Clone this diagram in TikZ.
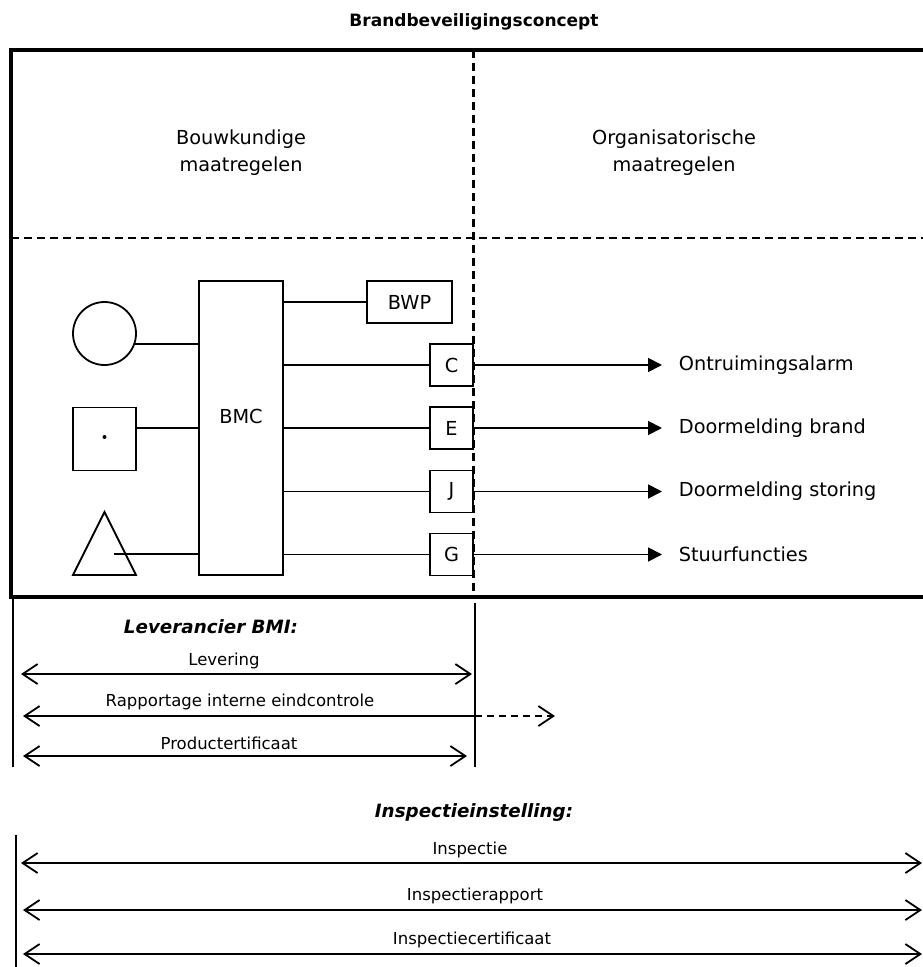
\documentclass[tikz,border=0pt]{standalone}
\usepackage{fontspec}
\setmainfont{DejaVu Sans}
\usetikzlibrary{arrows.meta}

\begin{document}
\begin{tikzpicture}[x=1pt,y=-1pt,line width=1.8pt,box/.style={draw,rectangle,inner sep=0pt,font=\fontsize{19.3}{23}\selectfont},port/.style={box,minimum width=43pt,minimum height=42pt},outlabel/.style={anchor=west,inner sep=0pt,font=\fontsize{19.3}{23}\selectfont},flowlabel/.style={inner sep=0pt,font=\fontsize{16.5}{20}\selectfont},partylabel/.style={inner sep=0pt,font=\fontsize{18.3}{22}\selectfont\bfseries\itshape},divider/.style={line width=2.2pt,dash pattern=on 8pt off 5pt},signal/.style={-{Triangle[length=14pt,width=14pt]},shorten >=16pt},barb/.tip={Straight Barb[length=15pt,width=20pt]},twoway/.style={barb-barb}]
  \useasboundingbox (0,0) rectangle (923,967);
  %header
  \node[font=\fontsize{17}{20}\selectfont\bfseries] (title) at (474,22) {Brandbeveiligingsconcept};
  \draw[line width=3.5pt] (930,50) -- (11,50) -- (11,597) -- (930,597);
  \draw[divider] (473.5,50) -- (473.5,597);
  \draw[divider] (11,238) -- (930,238);
  \node[align=center,font=\fontsize{19.3}{27}\selectfont] (bouw) at (241,152.5) {Bouwkundige\\maatregelen};
  \node[align=center,font=\fontsize{19.3}{27}\selectfont] (org) at (674,152.5) {Organisatorische\\maatregelen};

  %detectors
  \node[draw,circle,minimum size=63pt,inner sep=0pt] (detA) at (104.5,333.5) {};
  \node[box,minimum size=63pt] (detB) at (104.5,439) {};
  \fill ([yshift=2pt]detB.center) circle (2pt);
  \draw (73,575) -- (104.5,512) -- (136,575) -- cycle;
  \coordinate (detC) at (114,554);

  %central unit
  \node[box,minimum width=84pt,minimum height=294pt,label={[yshift=12pt,font=\fontsize{19.3}{23}\selectfont]center:BMC}] (bmc) at (241,428) {};
  \node[box,minimum width=85pt,minimum height=42pt] (bwp) at (409.5,302) {BWP};
  \node[port] (c) at (451.5,365) {C};
  \node[port] (e) at (451.5,428) {E};
  \node[port] (j) at (451.5,491.5) {J};
  \node[port] (g) at (451.5,554.5) {G};
  \node[outlabel] (alarm) at (678,365) {Ontruimingsalarm};
  \node[outlabel] (brand) at (678,428) {Doormelding brand};
  \node[outlabel] (storing) at (678,491.5) {Doormelding storing};
  \node[outlabel] (sturing) at (678,554.5) {Stuurfuncties};

  \draw (detA.-19.5) -- (detA.-19.5 -| bmc.west);
  \draw ([yshift=11pt]detB.east) -- ([yshift=11pt]detB.east -| bmc.west);
  \draw (detC) -- (detC -| bmc.west);
  \draw (bwp.west -| bmc.east) -- (bwp.west);
  \foreach \p/\l in {c/alarm,e/brand,j/storing,g/sturing}{
    \draw (\p.west -| bmc.east) -- (\p.west);
    \draw[signal] (\p.east) -- (\l.west);
  }

  %supplier
  \coordinate (bmiL1) at (13,597);
  \coordinate (bmiL2) at (13,767);
  \coordinate (bmiR1) at (475,603);
  \coordinate (bmiR2) at (475,767);
  \draw (bmiL1) -- (bmiL2);
  \draw (bmiR1) -- (bmiR2);
  \node[partylabel] (bmi) at (211,627) {Leverancier BMI:};
  \node[flowlabel] (lev) at (224,661) {Levering};
  \coordinate (levA) at (21,674);
  \coordinate (levB) at (472,674);
  \draw[twoway] (levA) -- (levB);
  \node[flowlabel] (rap) at (240,702) {Rapportage interne eindcontrole};
  \coordinate (rapA) at (23,716);
  \coordinate (rapB) at (475,716);
  \coordinate (rapC) at (555,716);
  \draw[barb-] (rapA) -- (rapB);
  \draw[-barb,dash pattern=on 7pt off 5pt] (rapB) -- (rapC);
  \node[flowlabel] (prod) at (229,743) {Productertificaat};
  \coordinate (prodA) at (23,756);
  \coordinate (prodB) at (467,756);
  \draw[twoway] (prodA) -- (prodB);

  %inspection
  \coordinate (insL1) at (16,835);
  \coordinate (insL2) at (16,970);
  \draw (insL1) -- (insL2);
  \node[partylabel] (insp) at (474,813) {Inspectieinstelling:};
  \node[flowlabel] (ins) at (470,850) {Inspectie};
  \coordinate (insA) at (21,863);
  \coordinate (insB) at (922,863);
  \draw[twoway] (insA) -- (insB);
  \node[flowlabel] (rapp) at (475,896) {Inspectierapport};
  \coordinate (rappA) at (23,910);
  \coordinate (rappB) at (922,910);
  \draw[twoway] (rappA) -- (rappB);
  \node[flowlabel] (cert) at (472,940) {Inspectiecertificaat};
  \coordinate (certA) at (23,954);
  \coordinate (certB) at (922,954);
  \draw[twoway] (certA) -- (certB);
\end{tikzpicture}
\end{document}
